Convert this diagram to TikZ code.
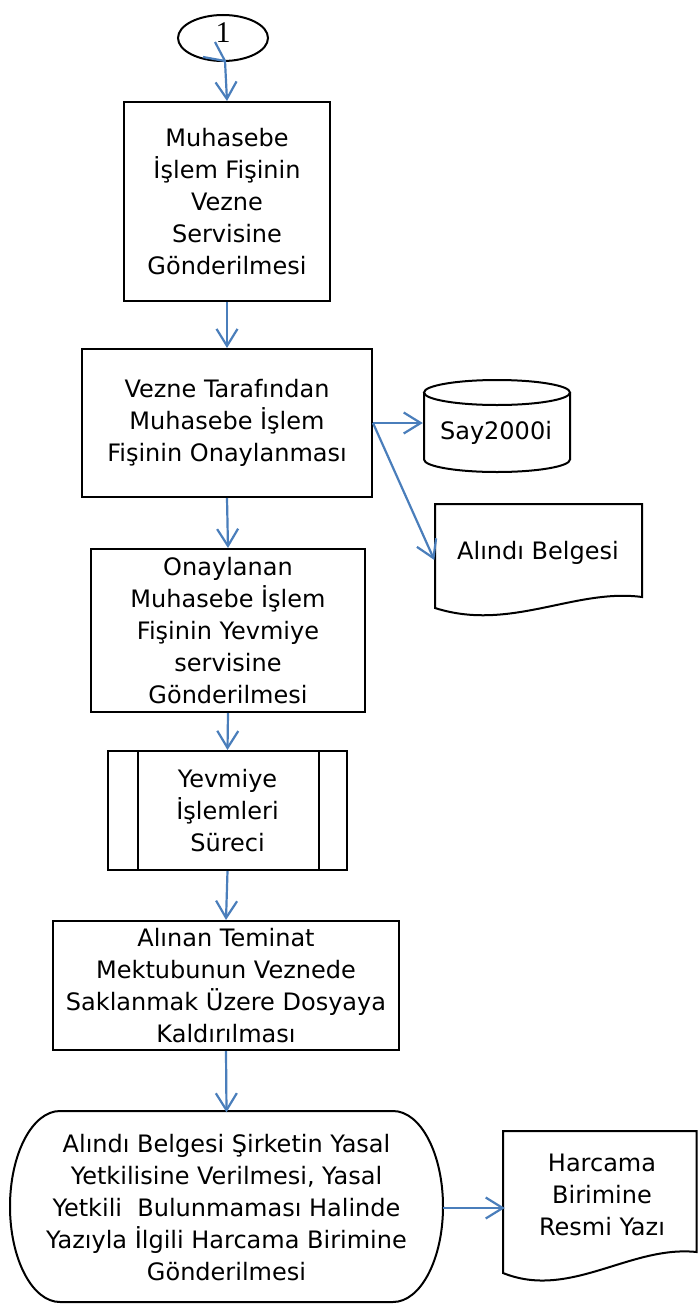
\documentclass[tikz,border=0pt]{standalone}
\usepackage{fontspec}
\setmainfont{DejaVu Sans}
\newfontfamily\onefont{Liberation Serif}
\usetikzlibrary{arrows.meta,shapes.geometric}
\definecolor{arrowblue}{RGB}{74,126,187}
\begin{document}
\begin{tikzpicture}[x=1pt,y=-1pt,
  txt/.style={align=center, inner sep=0pt, font=\fontsize{24}{32}\selectfont},
  box/.style={txt, draw, line width=2pt, rectangle},
  shapeline/.style={draw, line width=2pt},
  conn/.style={draw=arrowblue, line width=2.2pt, -{Straight Barb[length=17pt,width=21pt]}},
  plainconn/.style={draw=arrowblue, line width=2.2pt}]
\useasboundingbox (0,0) rectangle (698,1306);

% connector circle
\node[ellipse, draw, line width=2pt, minimum width=90pt, minimum height=46pt, inner sep=0pt] (c1) at (223,38) {};
\node[inner sep=0pt, font=\onefont\fontsize{30}{32}\selectfont] (c1t) at (223,33) {1};

% process boxes
\node[box, minimum width=206pt, minimum height=199pt] (b1) at (227,201.5)
  {Muhasebe\\İşlem Fişinin\\Vezne\\Servisine\\Gönderilmesi};
\node[box, minimum width=290pt, minimum height=148pt] (b2) at (227,423)
  {Vezne Tarafından\\Muhasebe İşlem\\Fişinin Onaylanması};
\node[box, minimum width=274pt, minimum height=163pt] (b3) at (228,630.5)
  {Onaylanan\\Muhasebe İşlem\\Fişinin Yevmiye\\servisine\\Gönderilmesi};
\node[box, minimum width=239pt, minimum height=119pt] (b4) at (227.5,810.5)
  {Yevmiye\\İşlemleri\\Süreci};
\draw[line width=2pt] ([xshift=31pt]b4.north west) -- ([xshift=31pt]b4.south west);
\draw[line width=2pt] ([xshift=-29pt]b4.north east) -- ([xshift=-29pt]b4.south east);
\node[box, minimum width=346pt, minimum height=129pt] (b5) at (226,985.5)
  {Alınan Teminat\\Mektubunun Veznede\\Saklanmak Üzere Dosyaya\\Kaldırılması};

% terminal
\draw[shapeline] (60,1111) -- (393,1111)
  .. controls (420.6,1111) and (443,1153.8) .. (443,1206.5)
  .. controls (443,1259.2) and (420.6,1302) .. (393,1302)
  -- (60,1302)
  .. controls (32.4,1302) and (10,1259.2) .. (10,1206.5)
  .. controls (10,1153.8) and (32.4,1111) .. cycle;
\node[txt, minimum width=433pt, minimum height=191pt] (term) at (226.5,1208)
  {Alındı Belgesi Şirketin Yasal\\Yetkilisine Verilmesi, Yasal\\Yetkili\ \ Bulunmaması Halinde\\Yazıyla İlgili Harcama Birimine\\Gönderilmesi};

% database cylinder
\draw[shapeline] (497,392.5) ellipse [x radius=73pt, y radius=12.5pt];
\draw[shapeline] (424,392.5) -- (424,459.5)
  .. controls (424,466.4) and (456.7,472) .. (497,472)
  .. controls (537.3,472) and (570,466.4) .. (570,459.5) -- (570,392.5);
\node[txt, minimum width=146pt, minimum height=60pt] (cyl) at (496,433) {Say2000i};

% document: Alındı Belgesi
\draw[shapeline] (435,608) -- (435,504) -- (642,504) -- (642,597)
  .. controls (575,588) and (510,632) .. cycle;
\node[txt, minimum width=207pt, minimum height=90pt] (doc1) at (538,553) {Alındı Belgesi};

% document: Harcama Birimine Resmi Yazı
\draw[shapeline] (503,1273) -- (503,1131) -- (696.5,1131) -- (696.5,1252)
  .. controls (630,1245) and (570,1300) .. cycle;
\node[txt, minimum width=194pt, minimum height=120pt] (doc2) at (602,1195)
  {Harcama\\Birimine\\Resmi Yazı};

% connectors
\coordinate (c1in) at (215,42);
\coordinate (c1bend) at (225,61);
\coordinate (c1tick) at (203,57);
\draw[plainconn] (c1tick) -- (c1bend);
\draw[conn] (c1in) -- (c1bend) -- (b1.north);
\draw[conn] (b1.south) -- (b2.north);
\draw[conn] (b2.east) -- (b2.east -| cyl.west);
\draw[conn] (b2.east) -- ([yshift=-7pt]doc1.west);
\draw[conn] (b2.south) -- (b3.north);
\draw[conn] (b3.south) -- (b4.north);
\draw[conn] (b4.south) -- (b5.north);
\draw[conn] (b5.south) -- (term.north);
\draw[conn] (term.east) -- (term.east -| doc2.west);
\end{tikzpicture}
\end{document}
